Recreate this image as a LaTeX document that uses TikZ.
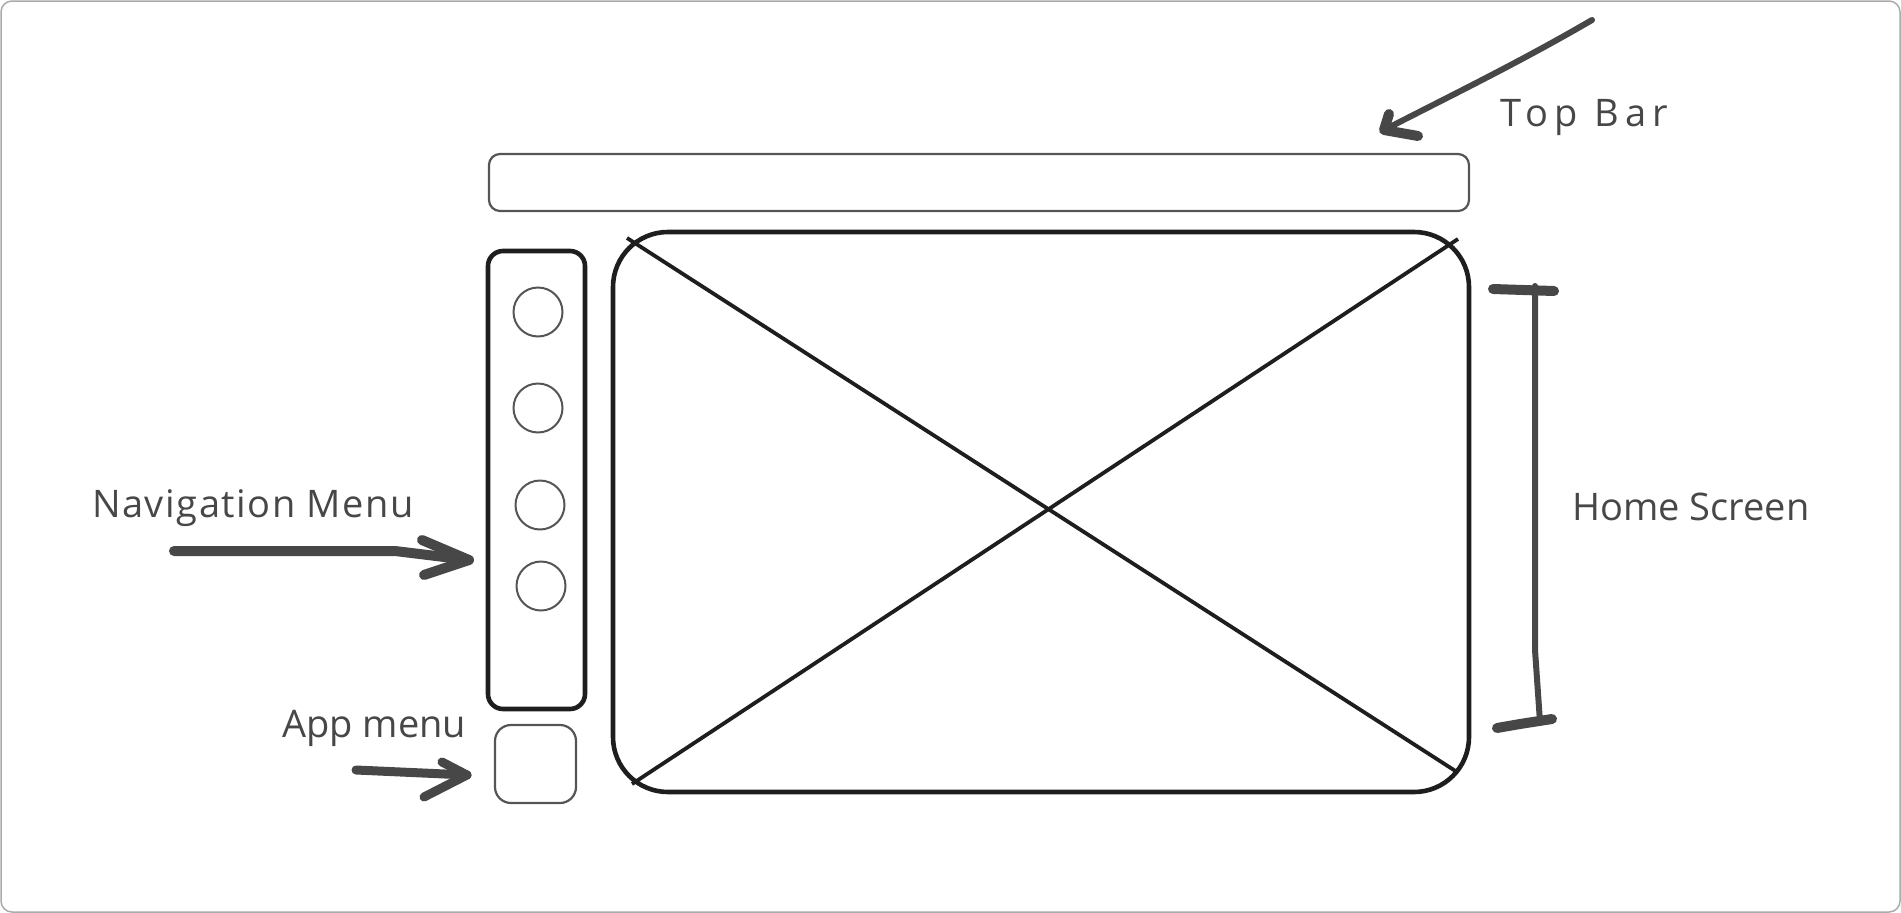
\documentclass[tikz,border=0pt]{standalone}
\usepackage{fontspec}
\setmainfont{Open Sans}
\definecolor{ink}{HTML}{1E1E1E}
\definecolor{soft}{HTML}{555555}
\definecolor{pen}{HTML}{474747}
\definecolor{frm}{HTML}{AAAAAA}
\begin{document}
\begin{tikzpicture}[x=1pt,y=-1pt,
  frame/.style={draw=frm, line width=1.5pt, rounded corners=11pt},
  lightbox/.style={draw=soft, line width=2.2pt, rounded corners=11pt, inner sep=0pt, outer sep=0pt, anchor=north west},
  heavybox/.style={draw=ink, line width=4.6pt, inner sep=0pt, outer sep=0pt, anchor=north west},
  dot/.style={circle, draw=soft, line width=2pt, minimum size=49pt, inner sep=0pt},
  crossline/.style={draw=ink, line width=3.8pt},
  marker/.style={draw=pen, line width=10pt, line cap=round, line join=round},
  thinmarker/.style={draw=pen, line width=6pt, line cap=round, line join=round},
  lbl/.style={text=pen, font=\fontsize{38}{44}\selectfont, inner sep=0pt, anchor=base west}
]
\useasboundingbox (0,0) rectangle (1901,913);
\draw[frame] (1,1) rectangle (1900,912);

% top bar
\node[lightbox, minimum width=980pt, minimum height=57pt] (topbar) at (489,154) {};
% navigation menu
\node[heavybox, rounded corners=15pt, minimum width=97pt, minimum height=458pt] (nav) at (488,251) {};
\node[dot] (c1) at (538,312) {};
\node[dot] (c2) at (538,408) {};
\node[dot] (c3) at (540,505) {};
\node[dot] (c4) at (541,586) {};
% app menu
\node[lightbox, rounded corners=16pt, minimum width=81pt, minimum height=78pt] (app) at (495,725) {};
% home screen
\node[heavybox, rounded corners=55pt, minimum width=856pt, minimum height=560pt] (home) at (613,232) {};
\coordinate (xa) at (627,238);
\coordinate (xb) at (1457,772);
\coordinate (xc) at (632,784);
\coordinate (xd) at (1458,239);
\draw[crossline] (xa) -- (xb);
\draw[crossline] (xc) -- (xd);

% labels
\node[lbl] (tTop) at (1500,126) {\addfontfeature{LetterSpace=17}Top Bar};
\node[lbl] (tNav) at (92,517) {\addfontfeature{LetterSpace=4}Navigation Menu};
\node[lbl] (tApp) at (282,737) {App menu};
\node[lbl] (tHome) at (1572,520) {Home Screen};

% top bar arrow
\coordinate (ta0) at (1592,20);
\coordinate (ta1) at (1384,130);
\draw[thinmarker] (ta0) .. controls (1520,62) and (1450,96) .. (ta1);
\draw[marker] (1389,114) -- (ta1) -- (1418,136);

% navigation arrow
\coordinate (na0) at (174,551);
\coordinate (na1) at (469,560);
\draw[marker] (na0) -- (395,551) -- (na1);
\draw[marker] (422,540) -- (na1) -- (424,575);

% app arrow
\coordinate (aa0) at (356,770);
\coordinate (aa1) at (467,775);
\draw[marker, line width=9pt] (aa0) -- (aa1);
\draw[marker, line width=9pt] (442,762) -- (aa1) -- (424,797);

% home screen bracket
\coordinate (b0) at (1535,286);
\coordinate (b1) at (1540,722);
\draw[thinmarker] (b0) -- (1535,650) -- (b1);
\draw[marker] (1493,289) -- (1554,291);
\draw[marker] (1497,728) -- (1520,724) -- (1552,719);
\end{tikzpicture}
\end{document}
